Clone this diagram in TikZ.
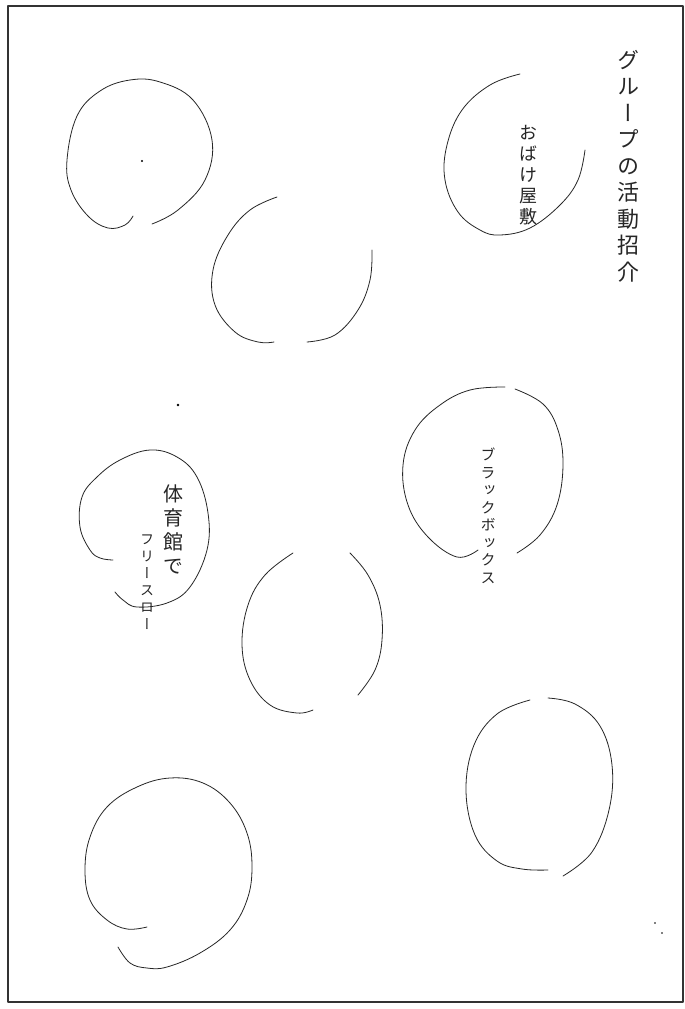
\documentclass[tikz,border=0pt]{standalone}
\usepackage{fontspec}
\newfontfamily\tatefont[RawFeature=+vert]{Noto Sans CJK JP}
\usepackage{tikz}
\usetikzlibrary{positioning}

\begin{document}
\begin{tikzpicture}[
		x=1pt,
		y=-1pt,
		line cap=round,
		line join=round,
		pen/.style={
			draw=black!85,
			line width=0.8pt
		},
		tate/.style={
			align=center,
			anchor=north,
			inner sep=0pt,
			text=black!85
		}
		]
		
		% page and frame
		\useasboundingbox (0,0) rectangle (685,1009);
		\fill[white] (0,0) rectangle (685,1009);
		\draw[black!80,line width=1.3pt] (8,6) rectangle (683,1002);
		
		% top-left oval
		\draw[pen] plot[smooth,tension=0.65] coordinates {(133,216) (125,225) (108,228) (88,216) (71,190) (67,160) (77,116) (100,91) (130,80) (160,82) (193,100) (212,140) (205,180) (178,210) (152,224)};
		\fill[black] (142,161) circle (1.2);
		
		% second oval
		\draw[pen] plot[smooth,tension=0.65] coordinates {(277,197) (250,210) (228,235) (213,270) (215,305) (235,332) (258,342) (274,342)};
		\draw[pen] plot[smooth,tension=0.65] coordinates {(307,342) (335,335) (358,310) (370,280) (372,250)};
		
		% haunted house oval
		\draw[pen] plot[smooth,tension=0.65] coordinates {(520,74) (490,85) (462,110) (447,145) (445,180) (458,212) (480,230) (500,235) (530,228) (560,205) (578,180) (585,150)};
		
		% black box oval
		\draw[pen] plot[smooth,tension=0.65] coordinates {(505,387) (470,390) (440,405) (415,430) (403,465) (408,505) (428,537) (457,557) (478,550)};
		\draw[pen] plot[smooth,tension=0.65] coordinates {(517,553) (540,535) (557,505) (563,465) (558,430) (543,404) (515,389)};
		
		% stray dot
		\fill[black] (178,405) circle (1.4);
		
		% gym oval
		\draw[pen] plot[smooth,tension=0.65] coordinates {(113,560) (100,558) (90,550) (80,527) (82,497) (97,477) (120,460) (150,450) (177,457) (197,477) (208,513) (207,550) (190,587) (167,603) (137,607) (123,600) (115,592)};
		
		% middle oval
		\draw[pen] plot[smooth,tension=0.65] coordinates {(293,553) (265,575) (248,605) (242,645) (250,680) (270,705) (297,713) (313,710)};
		\draw[pen] plot[smooth,tension=0.65] coordinates {(350,553) (368,575) (380,605) (382,640) (375,670) (358,695)};
		
		% lower-right oval
		\draw[pen] plot[smooth,tension=0.65] coordinates {(530,700) (497,714) (474,745) (466,790) (475,835) (497,861) (522,869) (548,870)};
		\draw[pen] plot[smooth,tension=0.65] coordinates {(563,876) (592,852) (609,810) (612,765) (600,726) (575,704) (548,698)};
		
		% bottom-left oval
		\draw[pen] plot[smooth,tension=0.65] coordinates {(147,927) (127,929) (107,920) (90,900) (85,870) (90,837) (107,807) (137,787) (170,778) (203,783) (230,803) (247,833) (252,867) (247,900) (230,930) (200,953) (167,967) (147,968) (130,963) (118,947)};
		
		% specks
		\fill[black] (655,923) circle (0.8);
		\fill[black] (662,933) circle (0.8);
		
		% labels
		\node[tate,font=\tatefont\fontsize{22}{26.5}\selectfont] (title) at (628,50) {グ\\ル\\ー\\プ\\の\\活\\動\\招\\介};
		\node[tate,font=\tatefont\fontsize{18}{21}\selectfont] (obake) at (528,125) {お\\ば\\け\\屋\\敷};
		\node[tate,font=\tatefont\fontsize{15}{17.5}\selectfont] (bbox) at (488,448) {ブ\\ラ\\ッ\\ク\\ボ\\ッ\\ク\\ス};
		\node[tate,font=\tatefont\fontsize{20}{24}\selectfont] (gym) at (173,485) {体\\育\\館\\で};
		\node[tate,font=\tatefont\fontsize{14}{17}\selectfont] (throw) at (147,535) {フ\\リ\\ー\\ス\\ロ\\ー};
	\end{tikzpicture}
\end{document}
